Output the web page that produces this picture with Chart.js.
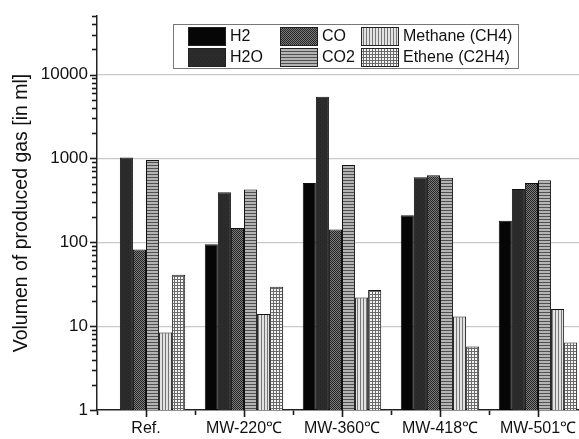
<!DOCTYPE html>
<html>
<head>
<meta charset="utf-8">
<script src="https://cdn.jsdelivr.net/npm/chart.js@4/dist/chart.umd.min.js"></script>
<style>
  html, body { margin: 0; padding: 0; background: #fff; overflow: hidden; }
  #wrap { width: 579px; height: 439px; overflow: hidden; }
</style>
</head>
<body>
<div id="wrap"><canvas id="gasChart" width="589" height="439"></canvas></div>
<script>
// categories and series values (ml)
const categories = ["Ref.", "MW-220\u2103", "MW-360\u2103", "MW-418\u2103", "MW-501\u2103"];
const h2 = [null, 95, 510, 210, 181];
const h2o = [1030, 395, 5450, 597, 433];
const co = [82, 148, 142, 630, 511];
const co2 = [960, 425, 838, 590, 550];
const methane = [8.4, 14, 22, 13, 16];
const ethene = [41, 29.5, 27, 5.7, 6.4];
const seriesNames = ["H2", "H2O", "CO", "CO2", "Methane (CH4)", "Ethene (C2H4)"];

// little helper to build the fill patterns
function makePattern(size, draw) {
  const c = document.createElement("canvas");
  c.width = size;
  c.height = size;
  const g = c.getContext("2d");
  draw(g, size);
  return g.createPattern(c, "repeat");
}

const fillH2 = "#060606";
const fillH2O = makePattern(4, (g) => {
  g.fillStyle = "#2c2c2c"; g.fillRect(0, 0, 4, 4);
  g.fillStyle = "#222"; g.fillRect(0, 0, 1, 1); g.fillRect(2, 2, 1, 1);
});
const fillCO = makePattern(2, (g) => {
  g.fillStyle = "#7a7a7a"; g.fillRect(0, 0, 2, 2);
  g.fillStyle = "#262626"; g.fillRect(0, 0, 1, 1); g.fillRect(1, 1, 1, 1);
});
const fillCO2 = makePattern(3, (g) => {
  g.fillStyle = "#b4b4b4"; g.fillRect(0, 0, 3, 3);
  g.fillStyle = "#505050"; g.fillRect(0, 0, 3, 1);
});
const fillCH4 = makePattern(3, (g) => {
  g.fillStyle = "#e2e2e2"; g.fillRect(0, 0, 3, 3);
  g.fillStyle = "#777"; g.fillRect(0, 0, 1, 3);
});
const fillC2H4 = makePattern(3, (g) => {
  g.fillStyle = "#f4f4f4"; g.fillRect(0, 0, 3, 3);
  g.fillStyle = "#6a6a6a"; g.fillRect(0, 0, 3, 1); g.fillRect(0, 0, 1, 3);
});

const fills = [fillH2, fillH2O, fillCO, fillCO2, fillCH4, fillC2H4];
const values = [h2, h2o, co, co2, methane, ethene];

const datasets = values.map((v, i) => ({
  label: seriesNames[i],
  data: v,
  backgroundColor: fills[i],
  borderColor: "#111",
  borderWidth: 1,
  categoryPercentage: 0.8,
  barPercentage: 1.0,
}));

// legend box drawn as 2 rows x 3 columns, like the original figure
const boxLegend = {
  id: "boxLegend",
  afterDraw(chart) {
    const ctx = chart.ctx;
    ctx.save();
    ctx.fillStyle = "#fff";
    ctx.fillRect(173, 24, 345, 44);
    ctx.strokeStyle = "#777";
    ctx.lineWidth = 1;
    ctx.strokeRect(173.5, 24.5, 345, 44);
    const cols = [188, 280, 361];
    const rows = [27, 48];
    ctx.font = "16px 'Liberation Sans', Arial, sans-serif";
    ctx.textBaseline = "middle";
    chart.data.datasets.forEach((ds, i) => {
      const x = cols[Math.floor(i / 2)];
      const y = rows[i % 2];
      ctx.fillStyle = ds.backgroundColor;
      ctx.fillRect(x, y, 37, 18);
      ctx.strokeStyle = "#222";
      ctx.strokeRect(x + 0.5, y + 0.5, 37, 18);
      ctx.fillStyle = "#111";
      ctx.fillText(ds.label, x + 42, y + 10);
    });
    ctx.restore();
  },
};

// tick marks: centre of every category, and minor ticks 2..9 on the log axis
const extraTicks = {
  id: "extraTicks",
  afterDraw(chart) {
    const xs = chart.scales.x;
    const ys = chart.scales.y;
    const ctx = chart.ctx;
    ctx.save();
    ctx.strokeStyle = "#1a1a1a";
    ctx.lineWidth = 1.6;
    categories.forEach((c, i) => {
      const px = Math.round(xs.getPixelForValue(i)) + 0.5;
      ctx.beginPath();
      ctx.moveTo(px, xs.top);
      ctx.lineTo(px, xs.top + 7);
      ctx.stroke();
    });
    const axisX = chart.chartArea.left;
    for (let e = 0; e <= 4; e++) {
      for (let m = 1; m <= 9; m++) {
        const v = m * Math.pow(10, e);
        if (v > 50000) break;
        const py = Math.round(ys.getPixelForValue(v)) + 0.5;
        const len = m === 1 ? 7 : 5;
        ctx.beginPath();
        ctx.moveTo(axisX - len, py);
        ctx.lineTo(axisX, py);
        ctx.stroke();
      }
    }
    ctx.restore();
  },
};

const isDecade = (v) => {
  const l = Math.log10(v);
  return Math.abs(l - Math.round(l)) < 1e-9;
};

new Chart(document.getElementById("gasChart").getContext("2d"), {
  type: "bar",
  data: { labels: categories, datasets: datasets },
  options: {
    responsive: false,
    animation: false,
    layout: { padding: { left: 0, top: 16, right: 2, bottom: 0 } },
    plugins: {
      legend: { display: false },
      tooltip: { enabled: false },
    },
    scales: {
      x: {
        offset: true,
        grid: {
          offset: true,
          drawOnChartArea: false,
          tickColor: "#1a1a1a",
          tickLength: 5,
          tickWidth: 1.6,
        },
        border: { color: "#222", width: 1.5 },
        ticks: {
          color: "#111",
          font: { family: "'Liberation Sans', Arial, sans-serif", size: 16 },
          padding: 4,
          maxRotation: 0,
        },
        afterFit(scale) {
          scale.height = 29;
        },
      },
      y: {
        type: "logarithmic",
        min: 1,
        max: 50000,
        grid: {
          color: (c) => (c.tick && isDecade(c.tick.value) && c.tick.value > 1 ? "#c9c9c9" : "rgba(0,0,0,0)"),
          lineWidth: 1.2,
          drawTicks: true,
          tickColor: "rgba(0,0,0,0)",
          tickLength: 7,
        },
        border: { color: "#222", width: 1.5 },
        ticks: {
          autoSkip: false,
          color: "#111",
          padding: 2,
          font: { family: "'Liberation Sans', Arial, sans-serif", size: 17 },
          callback: (v) => (isDecade(v) ? String(Math.round(v)) : ""),
        },
        title: {
          display: true,
          text: "Volumen of produced gas [in ml]",
          color: "#111",
          font: { family: "'Liberation Sans', Arial, sans-serif", size: 19.5 },
          padding: { top: 10, bottom: 0 },
        },
        afterFit(scale) {
          scale.width = 97;
        },
      },
    },
  },
  plugins: [boxLegend, extraTicks],
});
</script>
</body>
</html>
